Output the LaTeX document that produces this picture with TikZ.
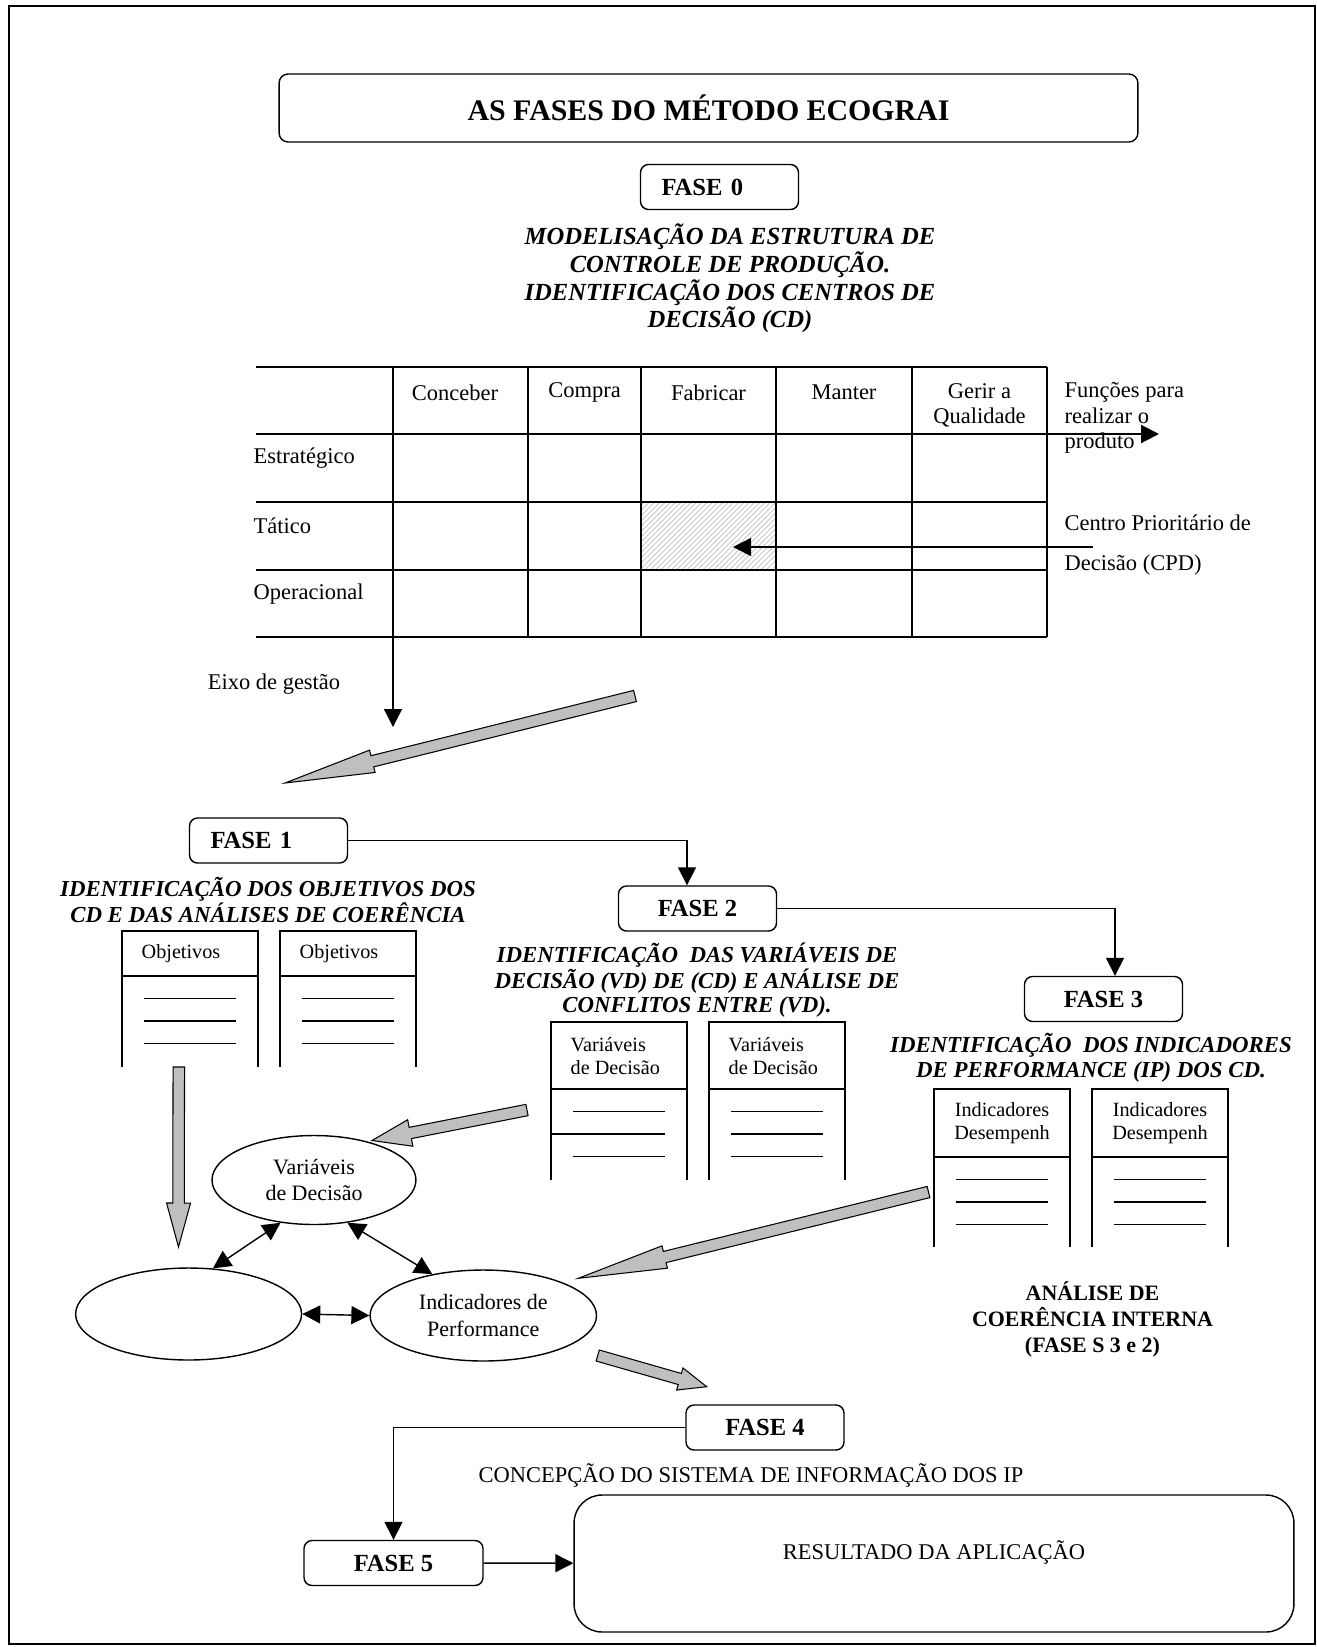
\documentclass[tikz,border=0pt]{standalone}
\usepackage{fontspec}
\setmainfont{Liberation Serif}
\usetikzlibrary{arrows.meta, shapes.geometric, patterns, calc}

\newcommand{\setacinza}[4]{%
  \coordinate (gh) at ($(#2)!#3!(#1)$);
  \filldraw[fill=gray!50, line width=0.6pt]
    ($(#1)!0.115cm!90:(#2)$) -- ($(gh)!0.115cm!90:(#2)$) -- ($(gh)!#4!90:(#2)$)
    -- (#2) -- ($(gh)!#4!-90:(#2)$) -- ($(gh)!0.115cm!-90:(#2)$)
    -- ($(#1)!0.115cm!-90:(#2)$) -- cycle;
}

\begin{document}
\begin{tikzpicture}[x=0.02cm, y=-0.02cm, line width=0.8pt,
  >={Triangle[length=0.36cm, width=0.36cm]},
  every node/.style={inner sep=0pt, font=\fontsize{12.8}{14.5}\selectfont},
  titlebox/.style={draw, rounded corners=0.18cm, minimum width=17.18cm, minimum height=1.36cm, font=\fontsize{17}{20}\selectfont\bfseries},
  fase/.style={draw, rounded corners=0.16cm, minimum width=3.16cm, minimum height=0.9cm, font=\fontsize{14}{16}\selectfont\bfseries},
  faseleft/.style={fase, text width=2.32cm, inner xsep=0.42cm, align=left},
  heading/.style={align=center, font=\fontsize{13}{14.5}\selectfont\bfseries\itshape},
  small/.style={font=\fontsize{11.5}{13.5}\selectfont},
  oval/.style={draw, ellipse, align=center, font=\fontsize{12.5}{15}\selectfont},
  resbox/.style={draw, rounded corners=0.56cm, minimum width=14.4cm, minimum height=2.74cm}]
\useasboundingbox (0,0) rectangle (1317,1647);
\draw[line width=1pt] (9,6) rectangle (1315,1644);

\node[titlebox] (title) at (708.5,108) {AS FASES DO MÉTODO ECOGRAI};
\node[faseleft] (fase0) at (719.5,187) {FASE 0};
\node[heading, font=\fontsize{14}{15.8}\selectfont\bfseries\itshape] (t0) at (730,278.5) {MODELISAÇÃO DA ESTRUTURA DE\\CONTROLE DE PRODUÇÃO.\\IDENTIFICAÇÃO DOS CENTROS DE\\DECISÃO (CD)};

\fill[pattern=north east lines, pattern color=gray!50] (641,502) rectangle (776,570);
\foreach \y in {367,637} \draw (256,\y) -- (1047,\y);
\foreach \y in {502,570} \draw[line width=1.2pt] (256,\y) -- (1047,\y);
\draw[line width=1.2pt, ->] (256,434) -- (1159,434);
\foreach \x in {393,528,641,776,912,1047} \draw (\x,367) -- (\x,637);

\foreach \x/\n/\t in {455/conc/Conceber, 584.5/comp/Compra, 708.5/fabr/Fabricar, 844/mant/Manter} {
  \node (\n) at (\x,392.7) {\t};
}
\node[align=center] (geri) at (979.5,405.5) {Gerir a\\Qualidade};
\foreach \y/\n/\t in {458/estr/Estratégico, 525.7/tati/Tático, 594/oper/Operacional} {
  \node[anchor=west] (\n) at (253,\y) {\t};
}
\node[anchor=west, align=left] (func) at (1064,418) {Funções para\\realizar o\\produto};
\node[anchor=west, align=left] (cpd) at (1064,545) {Centro Prioritário de\\[2.75mm]Decisão (CPD)};
\coordinate (cpdA) at (1093,547);
\coordinate (cpdB) at (733,547);
\draw[->] (cpdA) -- (cpdB);

\coordinate (eixoA) at (393,637);
\coordinate (eixoB) at (393,727);
\draw[->] (eixoA) -- (eixoB);
\node (eixo) at (274,684) {Eixo de gestão};

\coordinate (g1a) at (635,696);
\coordinate (g1b) at (285,783);
\setacinza{g1a}{g1b}{1.8cm}{0.23cm}

\node[faseleft] (fase1) at (268.5,840.5) {FASE 1};
\node[heading] (t1) at (268,900) {IDENTIFICAÇÃO DOS OBJETIVOS DOS\\CD E DAS ANÁLISES DE COERÊNCIA};
\node[fase] (fase2) at (697.5,908.5) {FASE 2};
\draw[->] (fase1.east) -| ([xshift=-0.21cm]fase2.north);
\node[heading, font=\fontsize{13}{13.8}\selectfont\bfseries\itshape] (t2) at (697,980) {IDENTIFICAÇÃO~ DAS VARIÁVEIS DE\\DECISÃO (VD) DE (CD) E ANÁLISE DE\\CONFLITOS ENTRE (VD).};
\node[fase] (fase3) at (1103.5,999) {FASE 3};
\draw[->] (fase2.east) -| ([xshift=0.23cm]fase3.north);
\node[heading] (t3) at (1091,1058) {IDENTIFICAÇÃO~ DOS INDICADORES\\DE PERFORMANCE (IP) DOS CD.};

\foreach \x/\t/\s/\b in {122/931/976/1067, 280/931/976/1067, 551/1022/1089/1180, 709/1022/1089/1180, 934/1089/1157/1247, 1092/1089/1157/1247} {
  \draw (\x,\b) -- (\x,\t) -- (\x+136,\t) -- (\x+136,\b);
  \draw (\x,\s) -- (\x+136,\s);
  \foreach \k in {1,2,3} \draw (\x+22,\s+22.5*\k) -- (\x+114,\s+22.5*\k);
}
\draw (551,1134) -- (620,1134);
\foreach \x/\n in {141/obj1, 299/obj2} {
  \node[small, anchor=west] (\n) at (\x,954) {Objetivos};
}
\foreach \x/\n in {570/vd1, 728/vd2} {
  \node[small, anchor=west, align=left] (\n) at (\x,1056) {Variáveis\\de Decisão};
}
\foreach \x/\n in {1002/ip1, 1160/ip2} {
  \node[small, align=center] (\n) at (\x,1123) {Indicadores\\Desempenh};
}

\coordinate (g2a) at (178.8,1067);
\coordinate (g2b) at (178.5,1247);
\setacinza{g2a}{g2b}{0.88cm}{0.24cm}
\coordinate (g3a) at (527,1110);
\coordinate (g3b) at (372,1140.5);
\setacinza{g3a}{g3b}{0.78cm}{0.27cm}

\node[oval, minimum width=4.08cm, minimum height=1.78cm] (vd) at (314,1180) {Variáveis\\de Decisão};
\node[oval, minimum width=4.52cm, minimum height=1.84cm] (vazio) at (188.6,1314) {};
\node[oval, minimum width=4.53cm, minimum height=1.82cm] (ind) at (483.3,1315.5) {Indicadores de\\Performance};
\draw[<->] (vd.232) -- (vazio.62);
\draw[<->] (vd.308) -- (ind.141);
\draw[<->] (vazio.east) -- (ind.west);

\coordinate (g4a) at (928.5,1192);
\coordinate (g4b) at (578.3,1278.3);
\setacinza{g4a}{g4b}{1.78cm}{0.23cm}

\node[align=center, font=\fontsize{12.5}{14.8}\selectfont\bfseries] (coer) at (1092.5,1319) {ANÁLISE DE\\COERÊNCIA INTERNA\\(FASE S 3 e 2)};

\coordinate (g5a) at (597.7,1355.5);
\coordinate (g5b) at (706.7,1386.7);
\setacinza{g5a}{g5b}{0.56cm}{0.23cm}

\node[fase] (fase4) at (765,1427.5) {FASE 4};
\node (concep) at (751,1475) {CONCEPÇÃO DO SISTEMA DE INFORMAÇÃO DOS IP};
\node[fase, minimum width=3.58cm] (fase5) at (393.5,1563) {FASE 5};
\draw[->] (fase4.west) -| (fase5.north);
\node[resbox] (res) at (934,1563.5) {};
\node (restxt) at (934,1552) {RESULTADO DA APLICAÇÃO};
\draw[->] (fase5) -- (res);
\end{tikzpicture}
\end{document}
